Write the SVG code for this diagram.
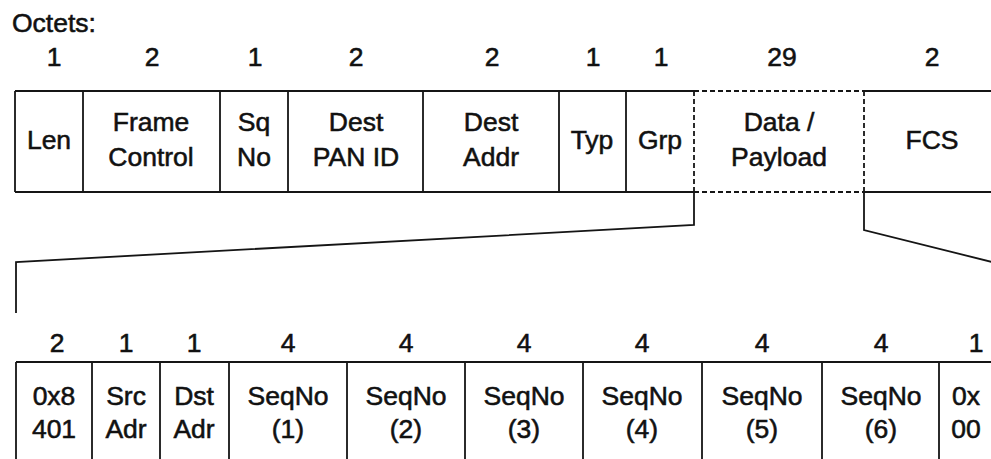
<svg xmlns="http://www.w3.org/2000/svg" width="991" height="459" viewBox="0 0 991 459">
  <style>
    text { font-family: "Liberation Sans", Arial, Helvetica, sans-serif; font-size: 26.5px; fill: #111; stroke: #111; stroke-width: 0.55px; text-anchor: middle; }
    .lbl { text-anchor: start; }
    .edge { fill: none; stroke: #151515; stroke-width: 1.8; }
    .dash { fill: none; stroke: #151515; stroke-width: 1.8; stroke-dasharray: 5 3; }
  </style>
  <rect width="991" height="459" fill="#ffffff"/>

  <text class="lbl" x="12" y="32">Octets:</text>

  <!-- frame fields: octet count above, field box below -->
  <g id="f-len">
    <text x="54" y="66">1</text>
    <path class="edge" d="M15 91H83M15 192H83M15 91V192"/>
    <text x="49" y="149">Len</text>
  </g>
  <g id="f-frame-control">
    <text x="152" y="66">2</text>
    <path class="edge" d="M83 91H220M83 192H220M83 91V192"/>
    <text x="151" y="131">Frame</text>
    <text x="151" y="166">Control</text>
  </g>
  <g id="f-sqno">
    <text x="255" y="66">1</text>
    <path class="edge" d="M220 91H288M220 192H288M220 91V192"/>
    <text x="254" y="131">Sq</text>
    <text x="254" y="166">No</text>
  </g>
  <g id="f-dest-pan">
    <text x="356" y="66">2</text>
    <path class="edge" d="M288 91H423M288 192H423M288 91V192"/>
    <text x="356" y="131">Dest</text>
    <text x="356" y="166">PAN ID</text>
  </g>
  <g id="f-dest-addr">
    <text x="492" y="66">2</text>
    <path class="edge" d="M423 91H559M423 192H559M423 91V192"/>
    <text x="491" y="131">Dest</text>
    <text x="491" y="166">Addr</text>
  </g>
  <g id="f-typ">
    <text x="593" y="66">1</text>
    <path class="edge" d="M559 91H626M559 192H626M559 91V192"/>
    <text x="592" y="149">Typ</text>
  </g>
  <g id="f-grp">
    <text x="661" y="66">1</text>
    <path class="edge" d="M626 91H694M626 192H694M626 91V192"/>
    <text x="660" y="149">Grp</text>
  </g>
  <g id="f-payload">
    <text x="782" y="66">29</text>
    <path class="dash" d="M694 91H864M694 192H864M694 91V192M864 91V192"/>
    <text x="779" y="131">Data /</text>
    <text x="779" y="166">Payload</text>
  </g>
  <g id="f-fcs">
    <text x="932" y="66">2</text>
    <path class="edge" d="M864 91H991M864 192H991"/>
    <text x="932" y="149">FCS</text>
  </g>

  <!-- expansion lines from the payload field to the detail row -->
  <g id="connectors">
    <polyline class="edge" points="694,192 694,225 16,262 16,313"/>
    <polyline class="edge" points="864,192 864,230 1000,264"/>
  </g>

  <!-- payload breakdown -->
  <g id="p-header">
    <text x="57" y="352">2</text>
    <path class="edge" d="M16 362H92M16 362V459"/>
    <text x="54" y="405">0x8</text>
    <text x="54" y="438">401</text>
  </g>
  <g id="p-src">
    <text x="126" y="352">1</text>
    <path class="edge" d="M92 362H160M92 362V459"/>
    <text x="126" y="405">Src</text>
    <text x="126" y="438">Adr</text>
  </g>
  <g id="p-dst">
    <text x="194" y="352">1</text>
    <path class="edge" d="M160 362H229M160 362V459"/>
    <text x="194" y="405">Dst</text>
    <text x="194" y="438">Adr</text>
  </g>
  <g id="p-seq1">
    <text x="288" y="352">4</text>
    <path class="edge" d="M229 362H347M229 362V459"/>
    <text x="288" y="405">SeqNo</text>
    <text x="288" y="438">(1)</text>
  </g>
  <g id="p-seq2">
    <text x="406" y="352">4</text>
    <path class="edge" d="M347 362H465M347 362V459"/>
    <text x="406" y="405">SeqNo</text>
    <text x="406" y="438">(2)</text>
  </g>
  <g id="p-seq3">
    <text x="524" y="352">4</text>
    <path class="edge" d="M465 362H583M465 362V459"/>
    <text x="524" y="405">SeqNo</text>
    <text x="524" y="438">(3)</text>
  </g>
  <g id="p-seq4">
    <text x="642" y="352">4</text>
    <path class="edge" d="M583 362H702M583 362V459"/>
    <text x="642" y="405">SeqNo</text>
    <text x="642" y="438">(4)</text>
  </g>
  <g id="p-seq5">
    <text x="762" y="352">4</text>
    <path class="edge" d="M702 362H822M702 362V459"/>
    <text x="762" y="405">SeqNo</text>
    <text x="762" y="438">(5)</text>
  </g>
  <g id="p-seq6">
    <text x="881" y="352">4</text>
    <path class="edge" d="M822 362H939M822 362V459"/>
    <text x="881" y="405">SeqNo</text>
    <text x="881" y="438">(6)</text>
  </g>
  <g id="p-end">
    <text x="976" y="352">1</text>
    <path class="edge" d="M939 362H991M939 362V459"/>
    <text x="966" y="405">0x</text>
    <text x="966" y="438">00</text>
  </g>
</svg>
